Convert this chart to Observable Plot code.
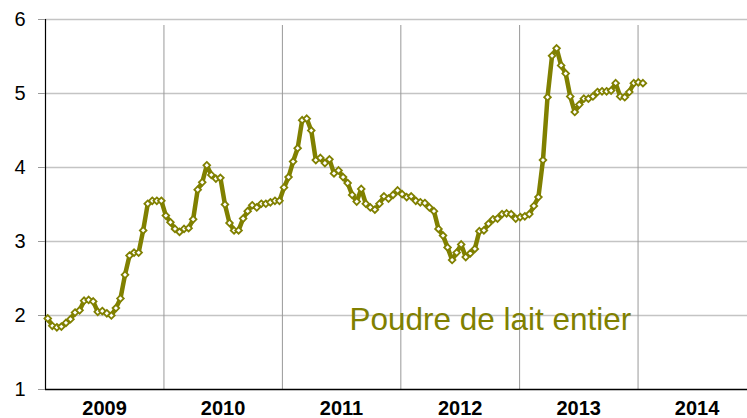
<!DOCTYPE html>
<html><head><meta charset="utf-8">
<script src="https://cdn.jsdelivr.net/npm/d3@7"></script>
<script src="https://cdn.jsdelivr.net/npm/@observablehq/plot@0.6"></script>
<style>html,body{margin:0;padding:0;background:#fff;overflow:hidden;}</style>
</head><body><div id="chart"></div>
<script>
// Auction dates (approx. fortnightly)
const dates = [
"2009-01-08","2009-01-22","2009-02-05","2009-02-19","2009-03-05","2009-03-19","2009-04-02","2009-04-16","2009-04-30","2009-05-14","2009-05-28","2009-06-11","2009-06-25","2009-07-09","2009-07-23","2009-08-06","2009-08-20","2009-09-03","2009-09-17","2009-10-01","2009-10-15","2009-10-29","2009-11-12","2009-11-26","2009-12-10","2009-12-24",
"2010-01-07","2010-01-21","2010-02-04","2010-02-18","2010-03-04","2010-03-18","2010-04-01","2010-04-15","2010-04-29","2010-05-13","2010-05-27","2010-06-10","2010-06-24","2010-07-08","2010-07-22","2010-08-05","2010-08-19","2010-09-02","2010-09-16","2010-09-30","2010-10-14","2010-10-28","2010-11-11","2010-11-25","2010-12-09","2010-12-23",
"2011-01-06","2011-01-20","2011-02-03","2011-02-17","2011-03-03","2011-03-17","2011-03-31","2011-04-14","2011-04-28","2011-05-12","2011-05-26","2011-06-09","2011-06-23","2011-07-07","2011-07-21","2011-08-04","2011-08-18","2011-09-01","2011-09-15","2011-09-29","2011-10-13","2011-10-27","2011-11-10","2011-11-24","2011-12-08","2011-12-22",
"2012-01-05","2012-01-19","2012-02-02","2012-02-16","2012-03-01","2012-03-15","2012-03-29","2012-04-12","2012-04-26","2012-05-10","2012-05-24","2012-06-07","2012-06-21","2012-07-05","2012-07-19","2012-08-02","2012-08-16","2012-08-30","2012-09-13","2012-09-27","2012-10-11","2012-10-25","2012-11-08","2012-11-22","2012-12-06","2012-12-20",
"2013-01-03","2013-01-17","2013-01-31","2013-02-14","2013-02-28","2013-03-14","2013-03-28","2013-04-11","2013-04-25","2013-05-09","2013-05-23","2013-06-06","2013-06-20","2013-07-04","2013-07-18","2013-08-01","2013-08-15","2013-08-29","2013-09-12","2013-09-26","2013-10-10","2013-10-24","2013-11-07","2013-11-21","2013-12-05","2013-12-19",
"2014-01-02","2014-01-16"
];
const values = [
1.96,1.86,1.84,1.85,1.90,1.95,2.04,2.07,2.20,2.21,2.19,2.05,2.06,2.03,2.00,2.10,2.23,2.55,2.81,2.85,2.85,3.15,3.51,3.55,3.55,3.55,
3.35,3.26,3.17,3.13,3.17,3.18,3.30,3.70,3.80,4.03,3.90,3.85,3.86,3.50,3.25,3.15,3.15,3.31,3.41,3.49,3.46,3.51,3.51,3.53,3.55,3.55,
3.73,3.87,4.08,4.26,4.64,4.66,4.50,4.10,4.13,4.06,4.11,3.92,3.96,3.87,3.79,3.63,3.54,3.71,3.51,3.46,3.43,3.51,3.61,3.58,3.63,3.69,
3.64,3.60,3.61,3.55,3.53,3.52,3.46,3.41,3.17,3.08,2.92,2.75,2.85,2.96,2.79,2.84,2.90,3.14,3.15,3.24,3.30,3.31,3.37,3.38,3.37,3.31,
3.33,3.34,3.37,3.48,3.60,4.10,4.95,5.51,5.61,5.38,5.27,4.96,4.75,4.85,4.93,4.93,4.96,5.02,5.03,5.03,5.04,5.14,4.96,4.95,5.02,5.14,
5.15,5.14
];
const yTicks = [1, 2, 3, 4, 5, 6];
const years = [2009, 2010, 2011, 2012, 2013, 2014];
const seriesLabel = "Poudre de lait entier";
const labelDate = "2012-10-03";
const labelValue = 1.81;

const olive = "#808000";
const data = dates.map((d, i) => ({date: new Date(d), value: values[i]}));
const yearStart = y => new Date(Date.UTC(y, 0, 1));
const yearMid = y => new Date(Date.UTC(y, 6, 2));

const chart = Plot.plot({
  width: 747,
  height: 418,
  marginLeft: 45,
  marginTop: 19,
  marginBottom: 29,
  marginRight: -9,
  style: {fontFamily: "'Liberation Sans', Arial, sans-serif", background: "#fff", overflow: "hidden"},
  x: {type: "utc", domain: [yearStart(2009), yearStart(2015)], axis: null},
  y: {domain: [1, 6], axis: null},
  marks: [
    Plot.ruleY(yTicks.slice(1), {stroke: "#c4c4c4", strokeWidth: 1.5}),
    Plot.ruleX(years.map(yearStart), {y1: 1, y2: 6, insetBottom: -6, stroke: "#999", strokeWidth: 1}),
    Plot.ruleX([yearStart(2009)], {y1: 1, y2: 6, stroke: "#000", strokeWidth: 1.2}),
    Plot.ruleY([1], {stroke: "#000", strokeWidth: 1.5}),
    Plot.axisY({ticks: yTicks, label: null, tickSize: 7, tickPadding: 13, fontSize: 20, stroke: "#999", fill: "#000", tickFormat: d => String(d)}),
    Plot.text(years, {x: yearMid, frameAnchor: "bottom", lineAnchor: "bottom", dy: 25, text: d => String(d), fontSize: 20, fontWeight: "bold", fill: "#000"}),
    Plot.text([seriesLabel], {x: () => new Date(labelDate), y: () => labelValue, text: d => d, lineAnchor: "bottom", textAnchor: "middle", fontSize: 31.5, fill: olive, ariaLabel: "series-label"}),
    Plot.line(data, {x: "date", y: "value", stroke: olive, strokeWidth: 4.5, strokeLinejoin: "round"}),
    Plot.dot(data, {x: "date", y: "value", symbol: "diamond2", r: 3, fill: "#fff", stroke: olive, strokeWidth: 1.8})
  ]
});
document.getElementById("chart").append(chart);

// white box behind the series label (interrupts gridlines as in the original)
const g = chart.querySelector('g[aria-label="series-label"]');
if (g) {
  const t = g.querySelector("text");
  const b = t.getBBox();
  const r = document.createElementNS("http://www.w3.org/2000/svg", "rect");
  r.setAttribute("x", b.x - 10);
  r.setAttribute("y", b.y - 7);
  r.setAttribute("width", b.width + 21);
  r.setAttribute("height", b.height + 10);
  r.setAttribute("fill", "#fff");
  r.setAttribute("stroke", "none");
  if (t.getAttribute("transform")) r.setAttribute("transform", t.getAttribute("transform"));
  g.insertBefore(r, t);
}
</script>
</body></html>
